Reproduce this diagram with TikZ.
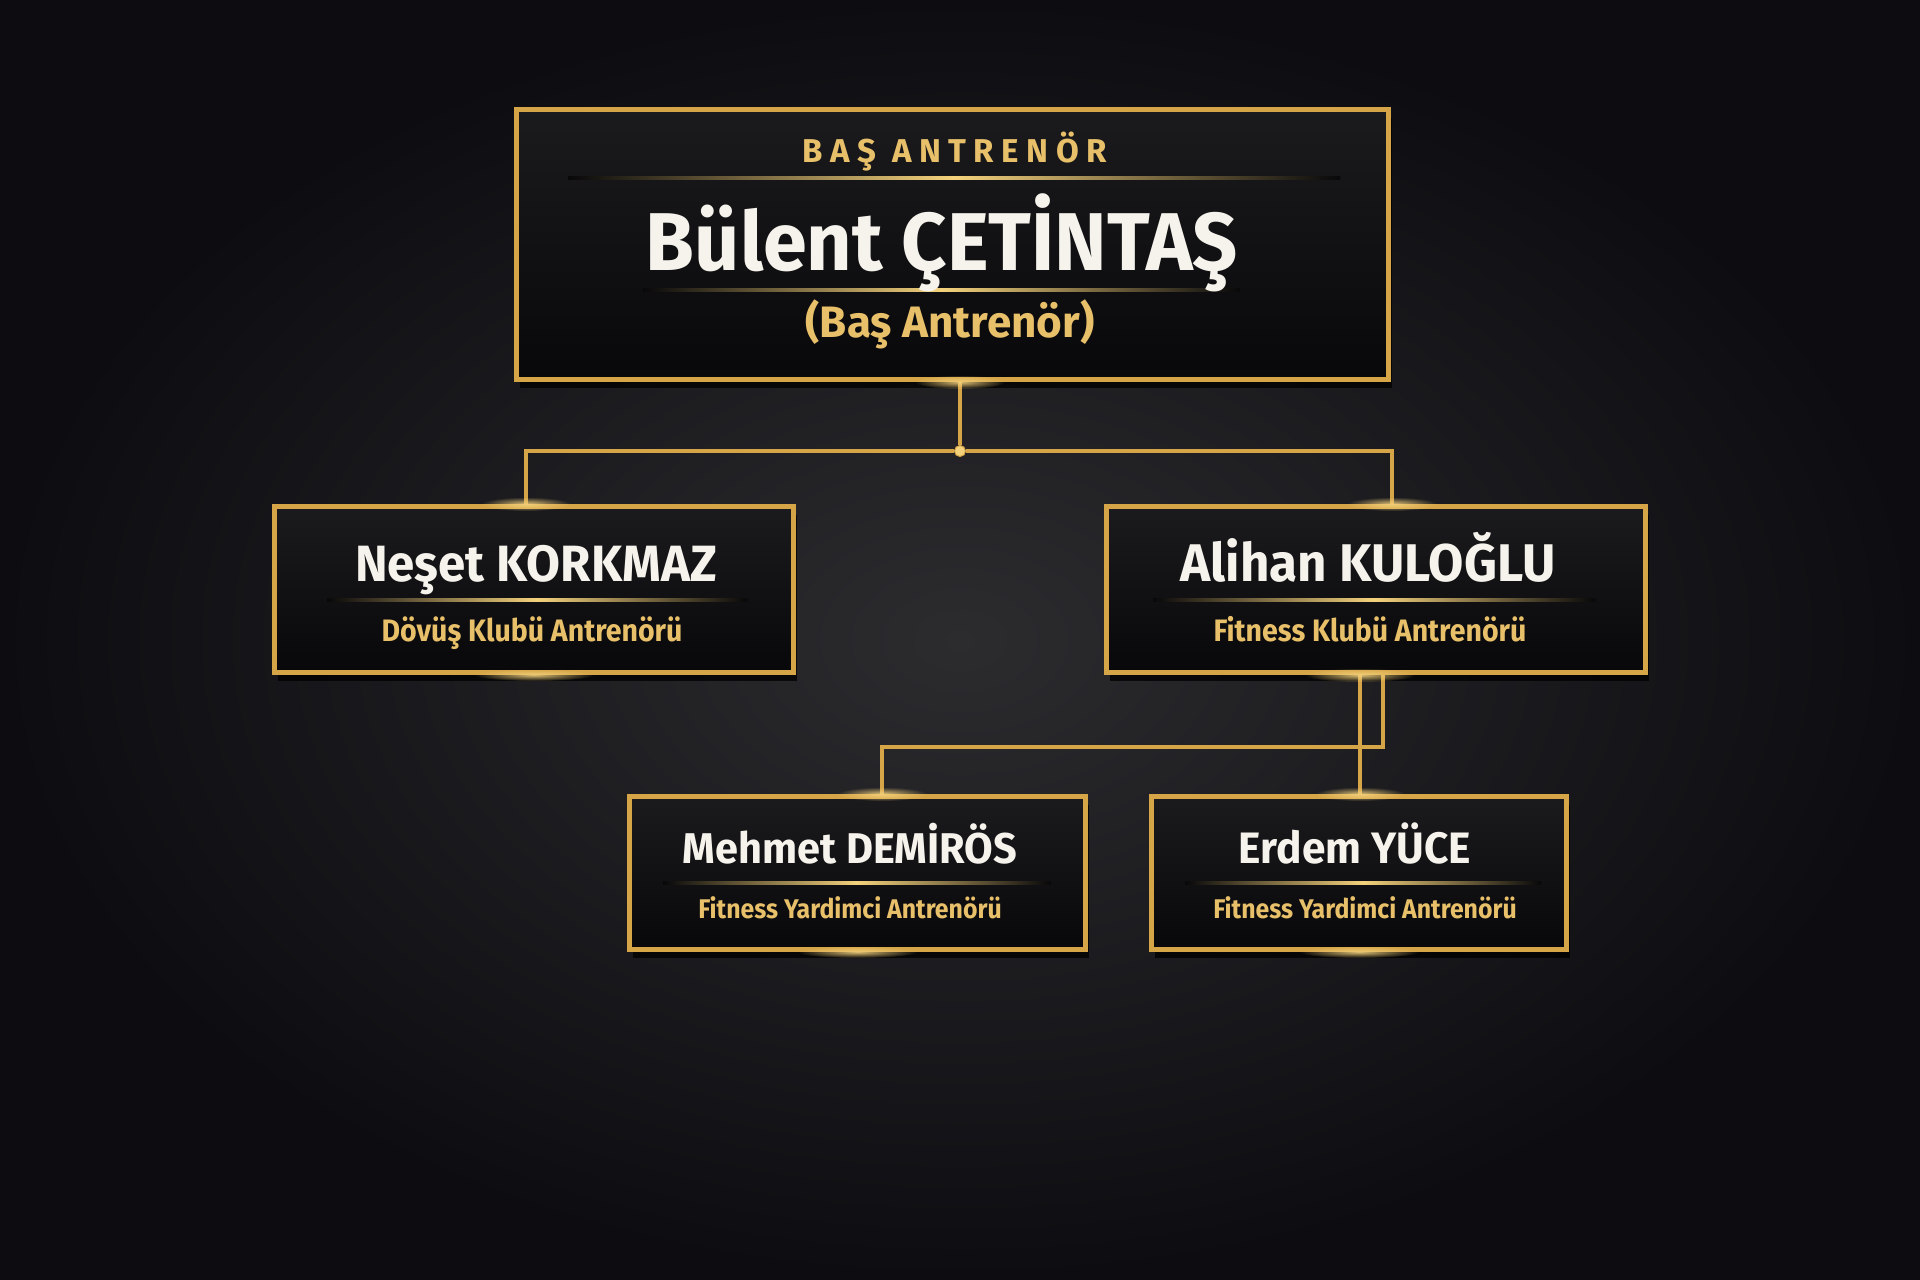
\documentclass[tikz,border=0pt]{standalone}
\usepackage{fontspec}
\setmainfont{Fira Sans}
\newfontfamily\namef[FakeStretch=0.965]{Fira Sans Bold}
\newfontfamily\subf[FakeStretch=0.92]{Fira Sans Bold}
\newfontfamily\capf{Fira Sans Bold}
\usetikzlibrary{shadows,fadings}
\tikzfading[name=glowfade, inner color=transparent!0, outer color=transparent!100]
\definecolor{gold}{HTML}{D6A548}
\definecolor{goldlt}{HTML}{F4D27C}
\definecolor{goldtxt}{HTML}{E8C06A}
\definecolor{namec}{HTML}{F6F3EC}
\definecolor{bgin}{HTML}{2C2C2F}
\definecolor{bgout}{HTML}{0D0D11}
\definecolor{boxtop}{HTML}{1B1B1E}
\definecolor{boxbot}{HTML}{08080A}
\begin{document}
\begin{tikzpicture}[x=1pt,y=-1pt,
  card/.style={draw=gold, line width=5pt, top color=boxtop, bottom color=boxbot, inner sep=0pt,
    drop shadow={shadow xshift=3pt, shadow yshift=-8pt, opacity=0.75, fill=black}},
  conn/.style={draw=gold, line width=3.5pt},
  nm/.style={anchor=base, text=namec, inner sep=0pt},
  sub/.style={anchor=base, text=goldtxt, inner sep=0pt},
  glow/.style={fill=goldlt, path fading=glowfade, opacity=0.9},
  sep/.style={left color=boxbot, right color=boxbot, middle color=goldlt}
]
\useasboundingbox (0,0) rectangle (1920,1280);
\shade[inner color=bgin, outer color=bgout] (0,0) rectangle (1920,1280);

% boxes
\node[card, minimum width=872pt, minimum height=270pt] (top) at (952.5,244.5) {};
\node[card, minimum width=519pt, minimum height=166pt] (left) at (534,589.5) {};
\node[card, minimum width=539pt, minimum height=166pt] (right) at (1376,589.5) {};
\node[card, minimum width=456pt, minimum height=153pt] (mehmet) at (857.5,873) {};
\node[card, minimum width=415pt, minimum height=153pt] (erdem) at (1359,873) {};

% connectors
\node[circle, fill=goldlt, draw=gold, line width=1pt, inner sep=0pt, minimum size=11pt] (j) at (960,451) {};
\coordinate (lx) at (526,0);
\coordinate (rx) at (1392,0);
\coordinate (bx1) at (1383,747);
\coordinate (mx) at (882,0);
\coordinate (ex) at (1360,0);
\draw[conn] (top.south -| j) -- (j);
\draw[conn] (left.north -| lx) |- (j);
\draw[conn] (j) -| (right.north -| rx);
\draw[conn] (right.south -| bx1) -- (bx1) -| (mehmet.north -| mx);
\draw[conn] (right.south -| ex) -- (erdem.north -| ex);

% glows
\fill[glow] (top.south -| j) ellipse [x radius=45, y radius=7];
\fill[glow] (left.north -| lx) ellipse [x radius=45, y radius=7];
\fill[glow] (right.north -| rx) ellipse [x radius=45, y radius=7];
\fill[glow] (right.south -| ex) ellipse [x radius=55, y radius=7];
\fill[glow] (mehmet.north -| mx) ellipse [x radius=45, y radius=7];
\fill[glow] (erdem.north -| ex) ellipse [x radius=45, y radius=7];
\fill[glow] (left.south) ellipse [x radius=60, y radius=6];
\fill[glow] (mehmet.south) ellipse [x radius=60, y radius=6];
\fill[glow] (erdem.south) ellipse [x radius=60, y radius=6];

% separators
\shade[sep] (568,176) rectangle (1340,179);
\shade[sep] (643,288) rectangle (1240,291);
\shade[sep] (327,598) rectangle (747,601);
\shade[sep] (1153,598) rectangle (1595,601);
\shade[sep] (663,881) rectangle (1051,884);
\shade[sep] (1185,881) rectangle (1541,884);

% texts
\node[sub, font={\capf\fontsize{33}{40}\selectfont\addfontfeature{LetterSpace=23}}] (t1) at (955,162) {BAŞ ANTRENÖR};
\node[nm, font={\namef\fontsize{82}{98}\selectfont}] (t2) at (942,270) {Bülent ÇETİNTAŞ};
\node[sub, font={\capf\fontsize{44}{52}\selectfont}] (t3) at (950,337) {(Baş Antrenör)};

\node[nm, font={\namef\fontsize{51}{62}\selectfont}] (n1) at (536,581) {Neşet KORKMAZ};
\node[sub, font={\subf\fontsize{31}{37}\selectfont}] (s1) at (532,641) {Dövüş Klubü Antrenörü};

\node[nm, font={\namef\fontsize{53}{64}\selectfont}] (n2) at (1368,581) {Alihan KULOĞLU};
\node[sub, font={\subf\fontsize{31}{37}\selectfont}] (s2) at (1370,641) {Fitness Klubü Antrenörü};

\node[nm, font={\namef\fontsize{43}{52}\selectfont}] (n3) at (850,863) {Mehmet DEMİRÖS};
\node[sub, font={\subf\fontsize{27}{32}\selectfont}] (s3) at (850,918) {Fitness Yardimci Antrenörü};

\node[nm, font={\namef\fontsize{44}{52}\selectfont}] (n4) at (1355,863) {Erdem YÜCE};
\node[sub, font={\subf\fontsize{27}{32}\selectfont}] (s4) at (1365,918) {Fitness Yardimci Antrenörü};
\end{tikzpicture}
\end{document}
